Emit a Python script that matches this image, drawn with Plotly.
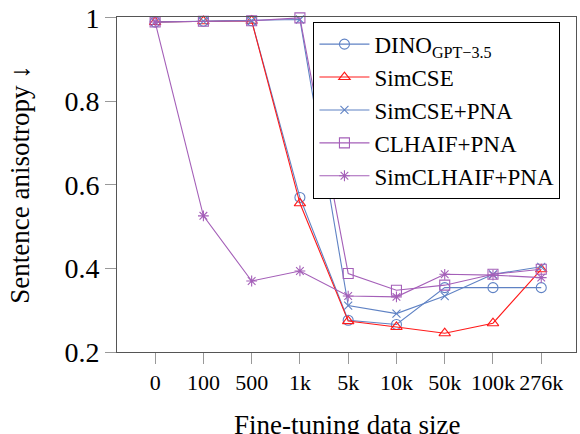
import plotly.graph_objects as go

x_labels = ["0", "100", "500", "1k", "5k", "10k", "50k", "100k", "276k"]
dino = [0.990, 0.992, 0.993, 0.570, 0.276, 0.266, 0.354, 0.354, 0.354]
simcse = [0.990, 0.992, 0.993, 0.556, 0.274, 0.260, 0.245, 0.269, 0.398]
simcse_pna = [0.990, 0.992, 0.993, 0.996, 0.311, 0.292, 0.334, 0.386, 0.404]
clhaif_pna = [0.990, 0.992, 0.993, 1.000, 0.388, 0.348, 0.360, 0.386, 0.398]
simclhaif_pna = [0.990, 0.526, 0.370, 0.394, 0.334, 0.332, 0.386, 0.384, 0.378]
y_ticks = [0.2, 0.4, 0.6, 0.8, 1.0]
y_tick_labels = ["0.2", "0.4", "0.6", "0.8", "1"]

BLUE = "#5f82c4"
RED = "#ff1a1a"
PURPLE = "#a45fb8"
FONT = "Times New Roman, Liberation Serif, serif"

xs = list(range(len(x_labels)))

series = [
    ("DINO<sub>GPT−3.5</sub>", dino, BLUE, "circle-open", 10),
    ("SimCSE", simcse, RED, "triangle-up-open", 10),
    ("SimCSE+PNA", simcse_pna, BLUE, "x-thin-open", 8),
    ("CLHAIF+PNA", clhaif_pna, PURPLE, "square-open", 10),
    ("SimCLHAIF+PNA", simclhaif_pna, PURPLE, "asterisk-open", 9),
]

fig = go.Figure()
for name, vals, color, sym, size in series:
    fig.add_trace(go.Scatter(
        x=xs, y=vals, name=name, mode="lines+markers",
        line=dict(color=color, width=1.1),
        marker=dict(symbol=sym, size=size, color=color,
                    line=dict(color=color, width=1.1)),
        cliponaxis=False,
    ))

fig.update_layout(
    width=580, height=434,
    margin=dict(l=117, r=4, t=17, b=82),
    paper_bgcolor="white", plot_bgcolor="white",
    font=dict(family=FONT, color="black", size=22),
    showlegend=True,
    legend=dict(
        x=0.428, y=0.986, xanchor="left", yanchor="top",
        bordercolor="black", borderwidth=1, bgcolor="white",
        font=dict(family=FONT, size=23),
        tracegroupgap=0, itemwidth=50,
    ),
    xaxis=dict(
        range=[-0.79, 8.72], tickvals=xs, ticktext=x_labels, tickangle=0,
        showgrid=False, zeroline=False, automargin=False,
        showline=True, linecolor="#555", linewidth=1, mirror=True,
        ticks="outside", ticklen=11, tickcolor="#999",
        tickfont=dict(family=FONT, size=22),
    ),
    yaxis=dict(
        range=[0.2, 1.002], tickvals=y_ticks, ticktext=y_tick_labels,
        showgrid=False, zeroline=False, automargin=False,
        showline=True, linecolor="#555", linewidth=1, mirror=True,
        ticks="outside", ticklen=11, tickcolor="#999",
        tickfont=dict(family=FONT, size=28),
        title=dict(text="Sentence anisotropy ↓", font=dict(family=FONT, size=27), standoff=26),
    ),
    annotations=[dict(
        text="Fine-tuning data size", xref="paper", yref="paper",
        x=0.5, y=-0.168, xanchor="center", yanchor="top", showarrow=False,
        font=dict(family=FONT, size=27),
    )],
)

fig.write_html(
    "out.html",
    config={"displayModeBar": False},
    post_script="document.body.style.margin='0';document.body.style.overflow='hidden';",
)
